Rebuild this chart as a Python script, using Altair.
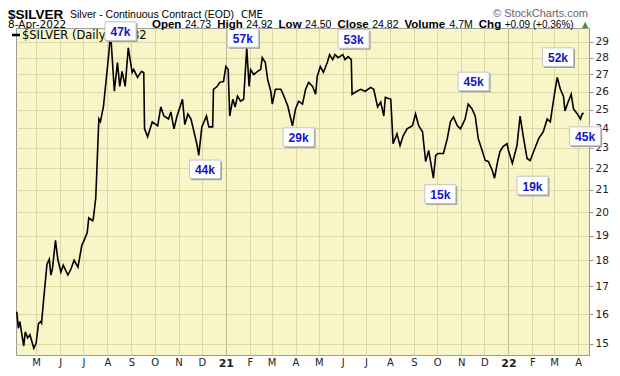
import altair as alt
import pandas as pd

# ---- data ----
dates = [
    "2020-04-06", "2020-04-08", "2020-04-10", "2020-04-13", "2020-04-15", "2020-04-17",
    "2020-04-20", "2020-04-23", "2020-04-28", "2020-05-01", "2020-05-04", "2020-05-07",
    "2020-05-08", "2020-05-11", "2020-05-15", "2020-05-18", "2020-05-20", "2020-05-22",
    "2020-05-26", "2020-05-29", "2020-06-02", "2020-06-05", "2020-06-11", "2020-06-15",
    "2020-06-19", "2020-06-24", "2020-06-29", "2020-07-02", "2020-07-06", "2020-07-08",
    "2020-07-13", "2020-07-14", "2020-07-17", "2020-07-21", "2020-07-23", "2020-07-27",
    "2020-08-03", "2020-08-04", "2020-08-06", "2020-08-10", "2020-08-14", "2020-08-17",
    "2020-08-20", "2020-08-24", "2020-08-28", "2020-09-02", "2020-09-04", "2020-09-09",
    "2020-09-14", "2020-09-17", "2020-09-18", "2020-09-22", "2020-09-28", "2020-10-05",
    "2020-10-09", "2020-10-13", "2020-10-19", "2020-10-22", "2020-10-26", "2020-10-30",
    "2020-11-06", "2020-11-09", "2020-11-13", "2020-11-17", "2020-11-20", "2020-11-25",
    "2020-11-27", "2020-12-01", "2020-12-07", "2020-12-10", "2020-12-15", "2020-12-16",
    "2020-12-21", "2020-12-24", "2020-12-29", "2021-01-01", "2021-01-04", "2021-01-06",
    "2021-01-10", "2021-01-13", "2021-01-16", "2021-01-20", "2021-01-24", "2021-01-28",
    "2021-01-31", "2021-02-02", "2021-02-06", "2021-02-11", "2021-02-15", "2021-02-17",
    "2021-02-21", "2021-02-24", "2021-02-28", "2021-03-02", "2021-03-06", "2021-03-13",
    "2021-03-16", "2021-03-22", "2021-03-25", "2021-03-28", "2021-04-01", "2021-04-05",
    "2021-04-10", "2021-04-14", "2021-04-18", "2021-04-23", "2021-04-27", "2021-04-29",
    "2021-05-03", "2021-05-07", "2021-05-12", "2021-05-15", "2021-05-19", "2021-05-22",
    "2021-05-26", "2021-06-01", "2021-06-04", "2021-06-08", "2021-06-12", "2021-06-13",
    "2021-06-17", "2021-06-24", "2021-06-30", "2021-07-07", "2021-07-11", "2021-07-16",
    "2021-07-20", "2021-07-24", "2021-07-26", "2021-08-02", "2021-08-05", "2021-08-10",
    "2021-08-14", "2021-08-18", "2021-08-23", "2021-08-30", "2021-09-03", "2021-09-07",
    "2021-09-12", "2021-09-16", "2021-09-20", "2021-09-26", "2021-09-29", "2021-10-02",
    "2021-10-09", "2021-10-14", "2021-10-18", "2021-10-22", "2021-10-27", "2021-10-31",
    "2021-11-06", "2021-11-10", "2021-11-15", "2021-11-19", "2021-11-23", "2021-11-28",
    "2021-12-02", "2021-12-06", "2021-12-11", "2021-12-14", "2021-12-18", "2021-12-21",
    "2021-12-25", "2021-12-30", "2022-01-01", "2022-01-06", "2022-01-12", "2022-01-16",
    "2022-01-20", "2022-01-25", "2022-01-29", "2022-02-05", "2022-02-09", "2022-02-15",
    "2022-02-20", "2022-02-24", "2022-02-27", "2022-03-02", "2022-03-05", "2022-03-09",
    "2022-03-13", "2022-03-15", "2022-03-19", "2022-03-23", "2022-03-26", "2022-03-31",
    "2022-04-04", "2022-04-06", "2022-04-08",
]
prices = [
    16.09, 15.52, 15.75, 15.25, 14.93, 15.40,
    15.20, 15.30, 14.86, 15.02, 15.68, 15.75,
    15.70, 16.62, 17.85, 18.04, 17.43, 17.66,
    18.80, 18.04, 17.54, 17.81, 17.43, 17.66,
    18.00, 17.73, 18.60, 18.80, 19.12, 19.75,
    19.62, 19.75, 20.62, 24.50, 24.35, 25.20,
    28.31, 28.93, 28.93, 26.03, 27.71, 26.31,
    27.18, 26.31, 28.62, 27.12, 27.29, 26.83,
    27.18, 27.12, 23.98, 23.57, 24.35, 24.14,
    25.15, 24.66, 24.50, 24.88, 23.98, 24.66,
    25.58, 24.20, 24.77, 24.50, 23.98, 23.12,
    22.63, 24.08, 24.66, 24.08, 24.08, 26.14,
    26.31, 26.54, 26.59, 27.47, 27.29, 24.66,
    25.58, 25.15, 25.75, 25.47, 25.58, 28.62,
    26.31, 27.29, 27.00, 27.18, 27.29, 28.01,
    27.71, 26.71, 26.03, 25.31, 26.14, 26.14,
    25.86, 25.20, 24.66, 24.14, 25.04, 25.47,
    25.31, 26.14, 26.54, 26.31, 25.86, 26.88,
    27.47, 27.12, 27.71, 28.19, 27.89, 28.19,
    28.01, 28.19, 27.89, 28.07, 27.89, 25.86,
    25.97, 26.14, 26.03, 26.25, 26.14, 25.15,
    25.42, 24.66, 25.69, 25.58, 23.22, 23.72,
    23.12, 23.62, 23.98, 24.14, 24.77, 24.14,
    23.83, 22.33, 22.87, 21.53, 22.63, 22.72,
    22.72, 23.47, 24.35, 24.61, 24.14, 23.98,
    24.50, 25.31, 25.04, 24.66, 23.47, 22.87,
    22.38, 22.33, 21.91, 21.53, 22.33, 22.82,
    23.07, 23.22, 22.87, 22.24, 23.12, 24.66,
    23.62, 22.48, 22.38, 23.07, 23.47, 23.83,
    24.50, 24.35, 25.20, 26.03, 26.83, 26.14,
    25.75, 24.93, 25.42, 25.86, 25.04, 24.77,
    24.50, 24.77, 24.82,
]
ann_labels = ["47k", "57k", "53k", "44k", "29k", "45k", "15k", "19k", "52k", "45k"]
ann_dates = ["2020-08-18", "2021-01-23", "2021-06-15", "2020-12-05", "2021-04-05",
             "2021-11-17", "2021-10-05", "2022-02-01", "2022-03-06", "2022-04-10"]
ann_prices = [29.68, 29.24, 29.18, 21.95, 23.55, 26.59, 20.80, 21.19, 28.04, 23.60]
y_ticks = [15, 16, 17, 18, 19, 20, 21, 22, 23, 24, 25, 26, 27, 28, 29]

df = pd.DataFrame({"date": dates, "price": prices})
ann = pd.DataFrame({"date": ann_dates, "price": ann_prices, "label": ann_labels})

W, H = 573, 327
X0, Y0 = 16, 28  # page position of the plot origin

GRID = "#dcd9a6"
is_year = "utcmonth(datum.value) == 0"

xscale = alt.Scale(
    type="utc",
    domain=[alt.DateTime(year=2020, month=4, date=5, utc=True),
            alt.DateTime(year=2022, month=4, date=15, utc=True)],
)
yscale = alt.Scale(type="log", domain=[14.64, 29.88], nice=False)

xaxis = alt.Axis(
    title=None,
    tickCount={"interval": "month", "step": 1},
    labelExpr=("utcmonth(datum.value) == 0 ? utcFormat(datum.value, '%y') : "
               "substring(utcFormat(datum.value, '%b'), 0, 1)"),
    labelFontWeight={"condition": {"test": is_year, "value": "bold"}, "value": "normal"},
    labelFontSize={"condition": {"test": is_year, "value": 11}, "value": 10},
    gridColor={"condition": {"test": is_year, "value": "#bebc8e"}, "value": GRID},
    ticks=False, domain=False, labelPadding=2, labelColor="#222",
    labelFont="DejaVu Sans", labelOverlap=False, labelFlush=False,
)
yaxis = alt.Axis(
    title=None, orient="right", values=y_ticks, format="d",
    tickSize=4, tickColor="#999", labelColor="#222", labelFontSize=10.5,
    labelPadding=2, domain=False, gridColor=GRID, labelFont="DejaVu Sans",
)

line = alt.Chart(df).mark_line(color="black", strokeWidth=1.6).encode(
    x=alt.X("date:T", scale=xscale, axis=xaxis),
    y=alt.Y("price:Q", scale=yscale, axis=yaxis),
)

one = alt.Data(values=[{"k": 0}])


def txt(s, px, py, size=11, weight="normal", color="#000", font="Liberation Sans", align="left"):
    return alt.Chart(one).mark_text(
        text=s, fontSize=size, fontWeight=weight, color=color, font=font,
        align=align, baseline="alphabetic",
    ).encode(x=alt.value(px - X0), y=alt.value(py - Y0))


layers = [line]

# legend inside the plot
layers.append(alt.Chart(one).mark_rule(color="black", strokeWidth=2.5).encode(
    x=alt.value(12 - X0), x2=alt.value(20 - X0), y=alt.value(35 - Y0)))
layers.append(txt("$SILVER (Daily)  24.82", 22, 39, 11.5, font="DejaVu Sans"))

# annotation boxes
box_path = "M-1,-0.6H1V0.6H-1Z"
enc = dict(x=alt.X("date:T"), y=alt.Y("price:Q"))
layers.append(alt.Chart(ann).mark_point(
    shape=box_path, size=961, filled=True, color="#9b9b9b", opacity=1,
    xOffset=1.5, yOffset=1.5).encode(**enc))
layers.append(alt.Chart(ann).mark_point(
    shape=box_path, size=961, filled=True, fill="white", stroke="#c4c4c4",
    strokeWidth=1, opacity=1).encode(**enc))
layers.append(alt.Chart(ann).mark_text(
    font="Liberation Sans", fontWeight="bold", fontSize=12, color="#1414c8",
    dy=1).encode(text="label:N", **enc))

# header
layers += [
    txt("$SILVER", 8, 19, 13.5, "bold"),
    txt("Silver - Continuous Contract (EOD)", 70, 17.5, 10.5),
    txt("CME", 241, 17.5, 10, font="DejaVu Sans"),
    txt("\u00a9 StockCharts.com", 588, 17, 11, color="#666", align="right"),
    txt("8-Apr-2022", 8, 27.5, 10.5, font="DejaVu Sans"),
]
stats = [
    ("Open", 152, True), ("24.73", 184.9, False),
    ("High", 217.2, True), ("24.92", 246.3, False),
    ("Low", 278.6, True), ("24.50", 305.1, False),
    ("Close", 337.4, True), ("24.82", 372.2, False),
    ("Volume", 404.5, True), ("4.7M", 449.5, False),
    ("Chg", 478.8, True), ("+0.09 (+0.36%)", 504.7, False),
]
for s, px, bold in stats:
    if bold:
        layers.append(txt(s, px, 27.5, 11.5, "bold"))
    else:
        layers.append(txt(s, px, 27.5, 10 if s.startswith("+") else 10.5))
layers.append(txt("\u25b2", 582, 27, 8, color="#2e9a2e", font="DejaVu Sans"))

chart = alt.layer(*layers).properties(
    width=W, height=H,
    padding={"left": 8, "top": 20, "right": 23, "bottom": 13},
    autosize=alt.AutoSizeParams(type="none"),
    background="white",
).configure_view(fill="#f8f6c8", stroke="#9c9c9c", strokeWidth=1)

chart.save("out.html", embed_options={"renderer": "svg", "actions": False})
